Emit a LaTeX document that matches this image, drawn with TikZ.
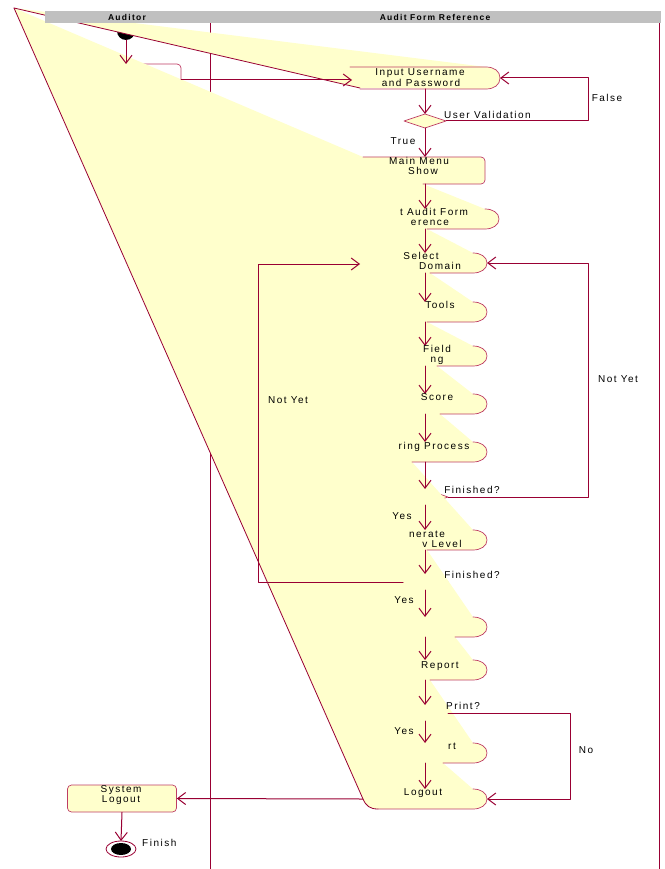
\documentclass[tikz,border=0pt]{standalone}
\usepackage{fontspec}
\setmainfont{Liberation Sans}
\newfontfamily\umlfont[LetterSpace=15]{Liberation Sans}
\usetikzlibrary{arrows.meta}
\definecolor{umlred}{RGB}{153,0,51}
\definecolor{umlline}{RGB}{190,60,100}
\definecolor{umlyellow}{RGB}{255,255,204}
\definecolor{lanegray}{RGB}{192,192,192}
% right end of an activity state: top, bottom, right x
\newcommand\rend[3]{.. controls (#3-6,#1) and (#3,#1+4) .. (#3,{(#1+#2)/2}) .. controls (#3,#2-4) and (#3-6,#2) .. (#3-14,#2)}

\begin{document}
\begin{tikzpicture}[line cap=round,line join=round,x=1pt,y=-1pt,
    flow/.style={draw=umlred,line width=1pt,-{Straight Barb[length=8pt,width=12pt,line width=1pt]}},
    edge/.style={draw=umlline,line width=0.7pt},
    txt/.style={font=\umlfont\fontsize{10}{11}\selectfont,inner sep=0pt,text height=6.5pt,text depth=1.5pt},
    head/.style={font=\umlfont\bfseries\fontsize{8.5}{9}\selectfont,inner sep=0pt}]
\useasboundingbox (0,0) rectangle (664,869);

% swimlanes
\draw[umlred,line width=0.8pt] (210,23) -- (210,869);
\draw[umlred,line width=0.8pt] (659,23) -- (659,869);

% start and login box
\fill[black] (126,31) circle (9pt);
\coordinate (start) at (126,40);
\draw[edge,rounded corners=4pt] (70,64) -- (181,64) -- (181,96);
\coordinate (login-n) at (126,64);
\coordinate (login-e) at (181,80);

% decisions
\draw[edge,fill=umlyellow] (404,121) -- (425,114) -- (446,121) -- (425,128) -- cycle;
\coordinate (valid-n) at (425,114);
\coordinate (valid-s) at (425,128);
\coordinate (valid-e) at (446,121);
\foreach \name/\y in {check/497, back/582, print/713}{
  \draw[edge,fill=umlyellow] (403,\y) -- (425,\y-8) -- (448,\y) -- (425,\y+8) -- cycle;
  \coordinate (\name-n) at (425,\y-8);
  \coordinate (\name-s) at (425,\y+8);
  \coordinate (\name-e) at (448,\y);
  \coordinate (\name-w) at (403,\y);
}

% the yellow area
\fill[umlyellow] (14,8) -- (486,67) \rend{67}{89}{500} -- (360,88) -- (14,8)
  -- (363,157) -- (481,157) -- (485,161) -- (485,180) -- (481,184) -- (423,184)
  -- (485,209) \rend{209}{229}{499} -- (427,229)
  -- (473,253) \rend{253}{273}{487} -- (430,273)
  -- (473,302) \rend{302}{322}{487} -- (427,322)
  -- (473,346) \rend{346}{366}{487} -- (437,366)
  -- (473,394) \rend{394}{414}{487} -- (440,414)
  -- (473,442) \rend{442}{462}{487} -- (412,462)
  -- (473,530) \rend{530}{550}{487} -- (427,550)
  -- (473,617) \rend{617}{637}{487} -- (455,637)
  -- (473,660) \rend{660}{680}{487} -- (430,680)
  -- (473,743) \rend{743}{763}{487} -- (443,763)
  -- (473,789) \rend{789}{809}{487} -- (378,809) .. controls (370,809) and (366,806) .. (363,799) -- cycle;

% outlines of the states
\draw[umlred,line width=0.8pt] (14,8) -- (360,88);
\draw[edge] (350,67) -- (486,67) \rend{67}{89}{500} -- (360,89);
\draw[edge,rounded corners=4pt] (363,157) -- (485,157) -- (485,184) -- (423,184);
\draw[edge] (485,209) \rend{209}{229}{499} -- (427,229);
\draw[edge] (473,253) \rend{253}{273}{487} -- (430,273);
\draw[edge] (473,302) \rend{302}{322}{487} -- (427,322);
\draw[edge] (473,346) \rend{346}{366}{487} -- (437,366);
\draw[edge] (473,394) \rend{394}{414}{487} -- (440,414);
\draw[edge] (473,442) \rend{442}{462}{487} -- (412,462);
\draw[edge] (473,530) \rend{530}{550}{487} -- (427,550);
\draw[edge] (473,617) \rend{617}{637}{487} -- (455,637);
\draw[edge] (473,660) \rend{660}{680}{487} -- (430,680);
\draw[edge] (473,743) \rend{743}{763}{487} -- (443,763);
\draw[edge] (473,789) \rend{789}{809}{487} -- (378,809);
\draw[umlred,line width=0.8pt] (14,8) -- (363,799) .. controls (366,806) and (370,809) .. (378,809);

% anchors of the states
\coordinate (input-w) at (352,80);
\coordinate (input-e) at (500,78);
\coordinate (input-s) at (425,89);
\coordinate (menu-n) at (425,157);
\coordinate (menu-s) at (425,184);
\coordinate (form-n) at (425,209);
\coordinate (form-s) at (425,229);
\coordinate (domain-n) at (425,253);
\coordinate (domain-s) at (425,273);
\coordinate (domain-w) at (360,264);
\coordinate (domain-e) at (487,263);
\coordinate (tools-n) at (425,302);
\coordinate (tools-s) at (425,322);
\coordinate (field-n) at (425,346);
\coordinate (field-s) at (425,366);
\coordinate (score-n) at (425,394);
\coordinate (score-s) at (425,414);
\coordinate (process-n) at (425,442);
\coordinate (process-s) at (425,462);
\coordinate (level-n) at (425,530);
\coordinate (level-s) at (425,550);
\coordinate (save-n) at (425,617);
\coordinate (save-s) at (425,637);
\coordinate (report-n) at (425,660);
\coordinate (report-s) at (425,680);
\coordinate (printout-n) at (425,743);
\coordinate (printout-s) at (425,763);
\coordinate (logout-n) at (425,789);
\coordinate (logout-w) at (363,799);
\coordinate (logout-e) at (487,799);

% system logout and finish
\node[edge,fill=umlyellow,rounded corners=4pt,minimum width=109pt,minimum height=27pt,inner sep=0pt] (syslogout) at (122,798.5) {};
\node[txt] at (121,790) {System};
\node[txt] at (121,800) {Logout};
\draw[umlred,line width=0.8pt,fill=white] (121,849) ellipse [x radius=15pt, y radius=8pt];
\fill[black] (121,849) ellipse [x radius=10pt, y radius=6pt];
\coordinate (finish-n) at (121,841);
\node[txt,anchor=west] (finishlbl) at (142,844) {Finish};

% header
\fill[lanegray] (45,11) rectangle (661,23);
\node[head] (auditor) at (127,17) {Auditor};
\node[head] (formref) at (435,17) {Audit Form Reference};

% flows
\draw[flow] (start) -- (login-n);
\draw[flow] (login-e) -- (input-w);
\draw[flow] (input-s) -- (valid-n);
\draw[flow] (valid-s) -- (menu-n);
\draw[flow] (valid-e) -- (588,121) -- (588,78) -- (input-e);
\draw[flow] (menu-s) -- (form-n);
\draw[flow] (form-s) -- (domain-n);
\draw[flow] (domain-s) -- (tools-n);
\draw[flow] (tools-s) -- (field-n);
\draw[flow] (field-s) -- (score-n);
\draw[flow] (score-s) -- (process-n);
\draw[flow] (process-s) -- (check-n);
\draw[flow] (check-s) -- (level-n);
\draw[flow] (check-e) -- (588,497) -- (588,263) -- (domain-e);
\draw[flow] (level-s) -- (back-n);
\draw[flow] (back-s) -- (save-n);
\draw[flow] (back-w) -- (258,582) -- (258,264) -- (domain-w);
\draw[flow] (save-s) -- (report-n);
\draw[flow] (report-s) -- (print-n);
\draw[flow] (print-s) -- (printout-n);
\draw[flow] (print-e) -- (570,713) -- (570,799) -- (logout-e);
\draw[flow] (printout-s) -- (logout-n);
\draw[flow] (logout-w) -- (syslogout.east);
\draw[flow] (syslogout.south) -- (finish-n);

% texts
\node[txt] (t1) at (420,73) {Input Username};
\node[txt] (t2) at (421,84) {and Password};
\node[txt,anchor=west] (t3) at (444,116) {User Validation};
\node[txt] (t4) at (607,99) {False};
\node[txt] (t5) at (403,142) {True};
\node[txt] (t6) at (419,162) {Main Menu};
\node[txt] (t7) at (423,172) {Show};
\node[txt] (t8) at (434,213) {t Audit Form};
\node[txt] (t9) at (430,223) {erence};
\node[txt] (t10) at (421,257) {Select};
\node[txt] (t11) at (440,267) {Domain};
\node[txt] (t12) at (440,306) {Tools};
\node[txt] (t13) at (437,350) {Field};
\node[txt] (t14) at (437,360) {ng};
\node[txt] (t15) at (437,398) {Score};
\node[txt] (t16) at (434,447) {ring Process};
\node[txt] (t17) at (472,491) {Finished?};
\node[txt] (t18) at (402,517) {Yes};
\node[txt] (t19) at (427,535) {nerate};
\node[txt] (t20) at (442,545) {v Level};
\node[txt] (t21) at (472,576) {Finished?};
\node[txt] (t22) at (404,601) {Yes};
\node[txt] (t23) at (440,666) {Report};
\node[txt] (t24) at (463,707) {Print?};
\node[txt] (t25) at (404,732) {Yes};
\node[txt] (t26) at (452,747) {rt};
\node[txt] (t27) at (423,793) {Logout};
\node[txt] (t28) at (586,751) {No};
\node[txt] (t29) at (288,401) {Not Yet};
\node[txt] (t30) at (618,380) {Not Yet};
\end{tikzpicture}
\end{document}
